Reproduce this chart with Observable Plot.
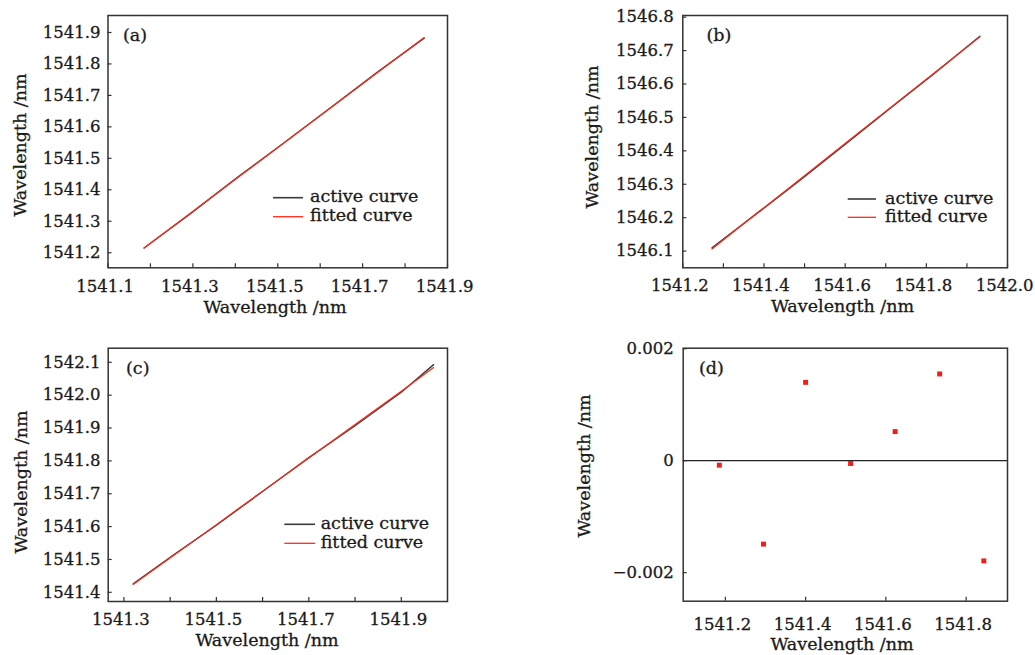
<!DOCTYPE html>
<html><head><meta charset="utf-8">
<script src="https://cdn.jsdelivr.net/npm/d3@7"></script>
<script src="https://cdn.jsdelivr.net/npm/@observablehq/plot@0.6"></script>
<style>
html,body{margin:0;padding:0;background:#fff;}
#wrap{position:relative;width:1035px;height:655px;overflow:hidden;font-family:"DejaVu Serif",serif;color:#1a1a1a;}
.panel{position:absolute;}
#overlay{position:absolute;left:0;top:0;pointer-events:none;}
#wrap text{stroke:#1a1a1a;stroke-width:0.3px;}
</style></head><body><div id="wrap"></div>
<script>
// ---------- data ----------
// panel (a)
const aX       = [1541.185, 1541.295, 1541.405, 1541.515, 1541.625, 1541.735, 1541.845];
const aActive  = [1541.2149, 1541.3250, 1541.4394, 1541.5494, 1541.6615, 1541.7740, 1541.8822];
const aFitted  = [1541.2150, 1541.3265, 1541.4380, 1541.5495, 1541.6610, 1541.7725, 1541.8840];
// panel (b)
const bX       = [1541.272, 1541.382, 1541.492, 1541.602, 1541.712, 1541.822, 1541.932];
const bActive  = [1546.110, 1546.212, 1546.315, 1546.421, 1546.528, 1546.634, 1546.743];
const bFitted  = [1546.106, 1546.213, 1546.318, 1546.424, 1546.530, 1546.635, 1546.741];
// panel (c)
const cX       = [1541.320, 1541.410, 1541.500, 1541.600, 1541.700, 1541.800, 1541.900, 1541.970];
const cActive  = [1541.426, 1541.516, 1541.604, 1541.707, 1541.810, 1541.907, 1542.009, 1542.093];
const cFitted  = [1541.424, 1541.515, 1541.606, 1541.708, 1541.809, 1541.911, 1542.012, 1542.084];
// panel (d) residuals
const dX        = [1541.185, 1541.295, 1541.400, 1541.512, 1541.623, 1541.734, 1541.844];
const dResidual = [-0.00008, -0.00149, 0.00140, -0.00005, 0.00052, 0.00155, -0.00179];

// ticks
const aXTicks = [1541.1, 1541.2, 1541.3, 1541.4, 1541.5, 1541.6, 1541.7, 1541.8, 1541.9];
const aXLabels = [1541.1, 1541.3, 1541.5, 1541.7, 1541.9];
const aYTicks = [1541.2, 1541.3, 1541.4, 1541.5, 1541.6, 1541.7, 1541.8, 1541.9];
const bXTicks = [1541.2, 1541.3, 1541.4, 1541.5, 1541.6, 1541.7, 1541.8, 1541.9, 1542.0];
const bXLabels = [1541.2, 1541.4, 1541.6, 1541.8, 1542.0];
const bYTicks = [1546.1, 1546.2, 1546.3, 1546.4, 1546.5, 1546.6, 1546.7, 1546.8];
const cXTicks = [1541.3, 1541.4, 1541.5, 1541.6, 1541.7, 1541.8, 1541.9];
const cXLabels = [1541.3, 1541.5, 1541.7, 1541.9];
const cYTicks = [1541.4, 1541.5, 1541.6, 1541.7, 1541.8, 1541.9, 1542.0, 1542.1];
const dXTicks = [1541.2, 1541.4, 1541.6, 1541.8];
const dYTicks = [-0.002, 0, 0.002];

const seriesNames = ["active curve", "fitted curve"];
const panelLetters = ["(a)", "(b)", "(c)", "(d)"];
const axisTitle = "Wavelength /nm";

// ---------- styling ----------
const INK = "#1a1a1a", FRAME = "#333", ACTIVE = "#3a3a3a", FITTED = "#ff2b1c", DOT = "#f01e1e";
const wrap = document.getElementById("wrap");

function curveRows(xs, ys) { return xs.map((x, i) => ({x, y: ys[i]})); }

function panel(cfg) {
  const marks = [
    ...cfg.marks,
    Plot.frame({stroke: FRAME, strokeWidth: 1.5}),
    Plot.axisX({ticks: cfg.xTicks, tickSize: -4, tickFormat: () => "", stroke: FRAME, strokeWidth: 1.2}),
    Plot.axisX({ticks: cfg.xLabels, tickSize: 0, tickPadding: cfg.xPad, dx: -3, fill: INK, tickFormat: cfg.xFormat}),
    Plot.axisY({ticks: cfg.yTicks, tickSize: -4, tickFormat: () => "", stroke: FRAME, strokeWidth: 1.2}),
    Plot.axisY({ticks: cfg.yLabels, tickSize: 0, tickPadding: cfg.yPad, fill: INK, tickFormat: cfg.yFormat})
  ];
  const chart = Plot.plot({
    width: cfg.width, height: cfg.height,
    marginLeft: cfg.m[0], marginRight: cfg.m[1], marginTop: cfg.m[2], marginBottom: cfg.m[3],
    x: {domain: cfg.xDomain, label: null},
    y: {domain: cfg.yDomain, label: null},
    style: {fontFamily: '"DejaVu Serif", serif', fontSize: "16.5px", background: "transparent", overflow: "visible", color: INK},
    marks
  });
  chart.classList.add("panel");
  chart.style.left = cfg.left + "px";
  chart.style.top = cfg.top + "px";
  chart.style.maxWidth = "none";
  wrap.appendChild(chart);
}

const f1 = d => d.toFixed(1);
const fd = d => d === 0 ? "0" : (d < 0 ? "\u2212" : "") + Math.abs(d).toFixed(3);

function curveMarks(xs, act, fit) {
  return [
    Plot.line(curveRows(xs, act), {x: "x", y: "y", stroke: ACTIVE, strokeWidth: 1.4}),
    Plot.line(curveRows(xs, fit), {x: "x", y: "y", stroke: FITTED, strokeWidth: 1.2})
  ];
}

panel({left: 0, top: 0, width: 470, height: 325, m: [107.5, 23, 15, 57.7],
  xDomain: [1541.1, 1541.9], yDomain: [1541.152, 1541.954],
  xTicks: aXTicks, xLabels: aXLabels, yTicks: aYTicks, yLabels: aYTicks,
  xFormat: f1, yFormat: f1, xPad: 12, yPad: 7.5,
  marks: curveMarks(aX, aActive, aFitted)});

panel({left: 570, top: 0, width: 465, height: 325, m: [112.3, 28, 15, 57.7],
  xDomain: [1541.2, 1542.0], yDomain: [1546.050, 1546.805],
  xTicks: bXTicks, xLabels: bXLabels, yTicks: bYTicks, yLabels: bYTicks,
  xFormat: f1, yFormat: f1, xPad: 11, yPad: 9,
  marks: curveMarks(bX, bActive, bFitted)});

panel({left: 0, top: 325, width: 470, height: 330, m: [107.7, 23, 22.7, 54],
  xDomain: [1541.266, 1542.0], yDomain: [1541.372, 1542.143],
  xTicks: cXTicks, xLabels: cXLabels, yTicks: cYTicks, yLabels: cYTicks,
  xFormat: f1, yFormat: f1, xPad: 12, yPad: 7.7,
  marks: curveMarks(cX, cActive, cFitted)});

panel({left: 570, top: 325, width: 465, height: 330, m: [112.7, 28, 22.7, 54.3],
  xDomain: [1541.095, 1541.903], yDomain: [-0.00251, 0.00201],
  xTicks: dXTicks, xLabels: dXTicks, yTicks: dYTicks, yLabels: dYTicks,
  xFormat: f1, yFormat: fd, xPad: 17, yPad: 9.4,
  marks: [
    Plot.ruleY([0], {stroke: "#222", strokeWidth: 1.3}),
    Plot.dot(curveRows(dX, dResidual), {x: "x", y: "y", symbol: "square", r: 2.8, fill: DOT, stroke: "none"})
  ]});

// ---------- annotations (axis titles, panel letters, legends) ----------
const NS = "http://www.w3.org/2000/svg";
const ov = document.createElementNS(NS, "svg");
ov.setAttribute("id", "overlay");
ov.setAttribute("width", 1035); ov.setAttribute("height", 655);
ov.style.fontFamily = '"DejaVu Serif", serif';
wrap.appendChild(ov);
function txt(s, x, y, size, opts = {}) {
  const t = document.createElementNS(NS, "text");
  t.textContent = s;
  t.setAttribute("x", x); t.setAttribute("y", y);
  t.setAttribute("font-size", size);
  t.setAttribute("fill", INK);
  if (opts.anchor) t.setAttribute("text-anchor", opts.anchor);
  if (opts.rotate) t.setAttribute("transform", `rotate(${opts.rotate},${x},${y})`);
  ov.appendChild(t);
}
function seg(x1, x2, y, color, w) {
  const l = document.createElementNS(NS, "line");
  l.setAttribute("x1", x1); l.setAttribute("x2", x2);
  l.setAttribute("y1", y); l.setAttribute("y2", y);
  l.setAttribute("stroke", color); l.setAttribute("stroke-width", w);
  ov.appendChild(l);
}
const LS = 17.5;
// x axis titles
txt(axisTitle, 275, 313, LS, {anchor: "middle"});
txt(axisTitle, 842.5, 312, LS, {anchor: "middle"});
txt(axisTitle, 267, 646, LS, {anchor: "middle"});
txt(axisTitle, 842, 650, LS, {anchor: "middle"});
// y axis titles
txt(axisTitle, 26, 145, LS, {anchor: "middle", rotate: -90});
txt(axisTitle, 598, 137, LS, {anchor: "middle", rotate: -90});
txt(axisTitle, 26.5, 482, LS, {anchor: "middle", rotate: -90});
txt(axisTitle, 590, 466, LS, {anchor: "middle", rotate: -90});
// panel letters
txt(panelLetters[0], 123, 41, LS);
txt(panelLetters[1], 706.5, 41, LS);
txt(panelLetters[2], 126, 374, LS);
txt(panelLetters[3], 699, 374, LS);
// legends
function legend(x1, x2, y1, y2, tx, b1, b2) {
  seg(x1, x2, y1, ACTIVE, 1.6);
  seg(x1, x2, y2, FITTED, 1.3);
  txt(seriesNames[0], tx, b1, LS);
  txt(seriesNames[1], tx, b2, LS);
}
legend(273, 303, 197.7, 216.7, 310, 202, 221);
legend(847.7, 876, 199, 217.3, 885, 203.5, 222);
legend(284.3, 315, 524.3, 543.3, 320.7, 528.5, 548);
</script></body></html>
